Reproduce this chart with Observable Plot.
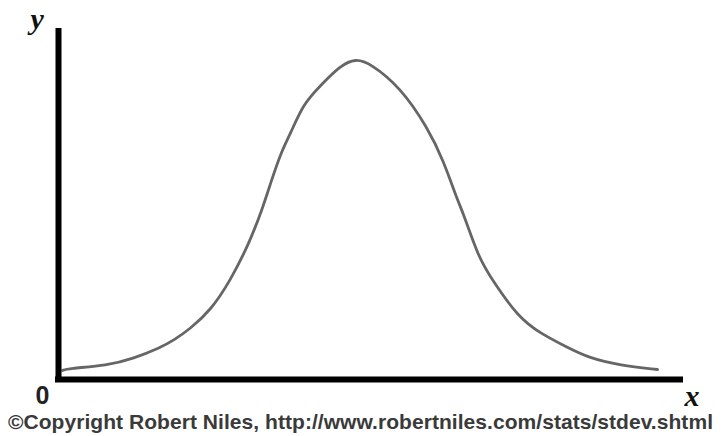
<!DOCTYPE html>
<html>
<head>
<meta charset="utf-8">
<script src="https://cdn.jsdelivr.net/npm/d3@7"></script>
<script src="https://cdn.jsdelivr.net/npm/@observablehq/plot@0.6"></script>
<style>
  html, body { margin: 0; padding: 0; background: #fff; }
  #chart svg { display: block; }
  #caption {
    font-family: "Liberation Sans", Arial, sans-serif;
    font-weight: bold;
    font-size: 21px;
    line-height: 24px;
    color: #3a3a3a;
    white-space: nowrap;
    margin-left: 8px;
    letter-spacing: 0.05px;
  }
</style>
</head>
<body>
<div id="chart"></div>
<div id="caption"></div>
<script>
// Curve (x: horizontal distance from the y axis, y: height above the x axis)
const curveX = [4, 9, 49, 75, 102, 115, 132, 152, 172, 192, 205, 212, 222, 232, 245, 262, 282, 297, 312, 342, 369, 385, 399, 405, 420, 434, 460, 482, 509, 529, 562, 599];
const curveY = [9, 11, 14, 21, 32, 39, 51, 69, 99, 139, 174, 196, 226, 246, 276, 294, 314, 321, 316, 292, 252, 219, 179, 166, 122, 99, 62, 46, 32, 22, 14, 10];

const xDomain = [0, 622];
const yDomain = [0, 348];

const yLabel = ["y"];
const xLabel = ["x"];
const originLabel = ["0"];
const captionText = "©Copyright Robert Niles, http://www.robertniles.com/stats/stdev.shtml";

const curve = curveX.map((x, i) => ({x, y: curveY[i]}));

const plot = Plot.plot({
  width: 726,
  height: 410,
  marginLeft: 58,
  marginRight: 46,
  marginTop: 31,
  marginBottom: 31,
  x: {domain: xDomain, axis: null},
  y: {domain: yDomain, axis: null},
  style: {background: "#fff"},
  marks: [
    Plot.line(curve, {x: "x", y: "y", stroke: "#666", strokeWidth: 2.8, curve: "basis"}),
    Plot.ruleX([0], {stroke: "#000", strokeWidth: 6, strokeLinecap: "square"}),
    Plot.ruleY([0], {stroke: "#000", strokeWidth: 6, strokeLinecap: "square"}),
    Plot.text(yLabel, {frameAnchor: "top-left", text: d => d, dx: -28, dy: -24,
      fontFamily: "Liberation Serif, Times New Roman, serif", fontStyle: "italic", fontWeight: "bold", fontSize: 30, fill: "#111"}),
    Plot.text(originLabel, {frameAnchor: "bottom-left", text: d => d, dx: -23, dy: 24,
      fontFamily: "Liberation Sans, Arial, sans-serif", fontWeight: "bold", fontSize: 25, fill: "#222"}),
    Plot.text(xLabel, {frameAnchor: "bottom-right", text: d => d, dx: 19, dy: 26,
      fontFamily: "Liberation Serif, Times New Roman, serif", fontStyle: "italic", fontWeight: "bold", fontSize: 30, fill: "#111"})
  ]
});
document.getElementById("chart").appendChild(plot);
document.getElementById("caption").textContent = captionText;
</script>
</body>
</html>
